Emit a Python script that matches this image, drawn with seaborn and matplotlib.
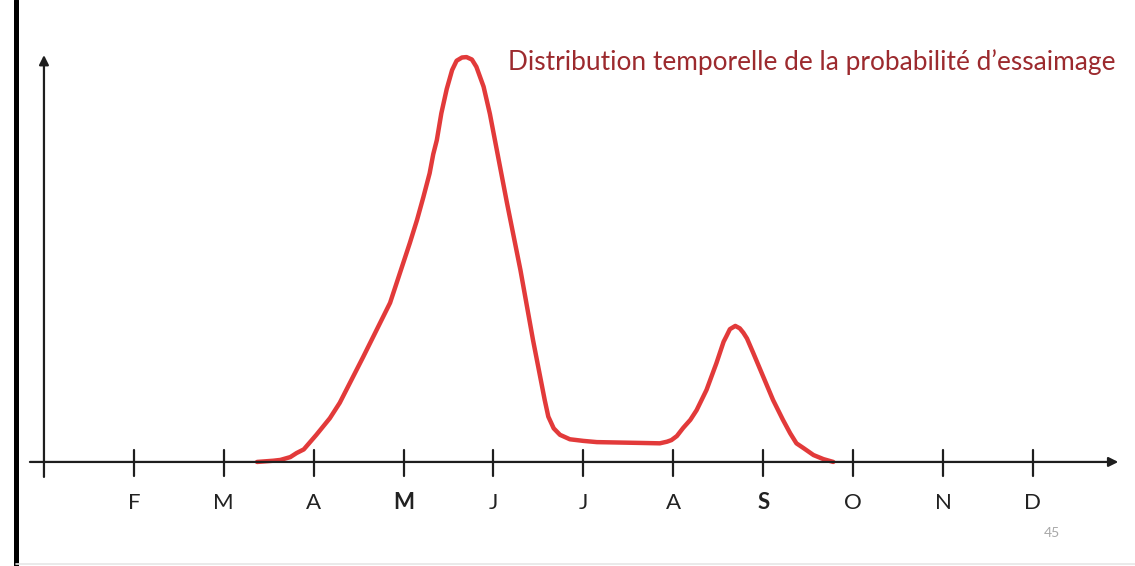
"""Distribution temporelle de la probabilité d'essaimage — hand-drawn style curve."""
import matplotlib
matplotlib.use("Agg")
import matplotlib.pyplot as plt
import pandas as pd
import seaborn as sns

# month positions (0 = janvier, at the y axis)
month_pos = [1, 2, 3, 4, 5, 6, 7, 8, 9, 10, 11]
month_labels = ["F", "M", "A", "M", "J", "J", "A", "S", "O", "N", "D"]
bold_months = [4, 8]

# curve (x in months, y relative to main peak)
curve_x = [2.37, 2.55, 2.63, 2.74, 2.81, 2.89, 3.03, 3.18, 3.29, 3.55, 3.85,
           4.07, 4.15, 4.22, 4.29, 4.33, 4.37, 4.42, 4.48, 4.54, 4.59, 4.65,
           4.70, 4.76, 4.81, 4.89, 4.96, 5.15, 5.30, 5.44, 5.57, 5.61, 5.67,
           5.74, 5.85, 6.00, 6.15, 6.63, 6.85, 6.93, 6.98, 7.04, 7.11, 7.19,
           7.26, 7.37, 7.48, 7.56, 7.59, 7.63, 7.69, 7.74, 7.78, 7.82, 7.89,
           8.00, 8.11, 8.22, 8.30, 8.37, 8.45, 8.56, 8.67, 8.78]
curve_y = [0.0, 0.003, 0.005, 0.012, 0.022, 0.031, 0.067, 0.108, 0.146, 0.259, 0.393,
           0.541, 0.598, 0.654, 0.713, 0.760, 0.795, 0.861, 0.921, 0.968, 0.991, 0.999,
           1.0, 0.994, 0.976, 0.927, 0.860, 0.640, 0.474, 0.301, 0.153, 0.112, 0.083,
           0.067, 0.056, 0.052, 0.049, 0.047, 0.046, 0.050, 0.054, 0.064, 0.084, 0.104,
           0.128, 0.178, 0.244, 0.297, 0.310, 0.328, 0.336, 0.330, 0.319, 0.305, 0.269,
           0.211, 0.153, 0.104, 0.071, 0.046, 0.034, 0.017, 0.007, 0.0]

title = "Distribution temporelle de la probabilité d’essaimage"
page_number = "45"

sns.set_style("white")
plt.rcParams["font.family"] = ["Lato", "DejaVu Sans"]

df = pd.DataFrame({"mois": curve_x, "proba": curve_y})

fig = plt.figure(figsize=(11.35, 5.66), dpi=100)
ax = fig.add_axes([0, 0, 1, 1])
ax.set_xlim(-0.489, 12.136)
ax.set_ylim(-0.257, 1.141)
ax.axis("off")

axis_col = "#1e1e1e"
# slide frame: thick bar on the left, faint line at the bottom
ax.axvline(-0.306, color="black", lw=3.6)
ax.plot([-0.306, 12.136], [-0.252, -0.252], color="#e6e6e6", lw=1.2)

# axes with arrow heads
ax.annotate("", xy=(11.95, 0), xytext=(-0.156, 0),
            arrowprops=dict(arrowstyle="-|>", color=axis_col, lw=1.6,
                            mutation_scale=14, shrinkA=0, shrinkB=0))
ax.annotate("", xy=(0, 1.005), xytext=(0, -0.037),
            arrowprops=dict(arrowstyle="-|>", color=axis_col, lw=1.6,
                            mutation_scale=14, shrinkA=0, shrinkB=0))

for m, lab in zip(month_pos, month_labels):
    ax.plot([m, m], [-0.035, 0.030], color=axis_col, lw=1.6)
    ax.text(m, -0.101, lab, ha="center", va="center", fontsize=16,
            color="#222222", fontweight="bold" if m in bold_months else "normal")

sns.lineplot(data=df, x="mois", y="proba", ax=ax, color="#e23a3a", lw=3.2,
             sort=False, solid_capstyle="round", solid_joinstyle="round")

ax.text(5.161, 0.988, title, ha="left", va="center", fontsize=18.9, color="#9c2a2e")
ax.text(11.21, -0.175, page_number, ha="center", va="center", fontsize=10, color="#a8a8a8")

fig.savefig("out.png", dpi=100)
